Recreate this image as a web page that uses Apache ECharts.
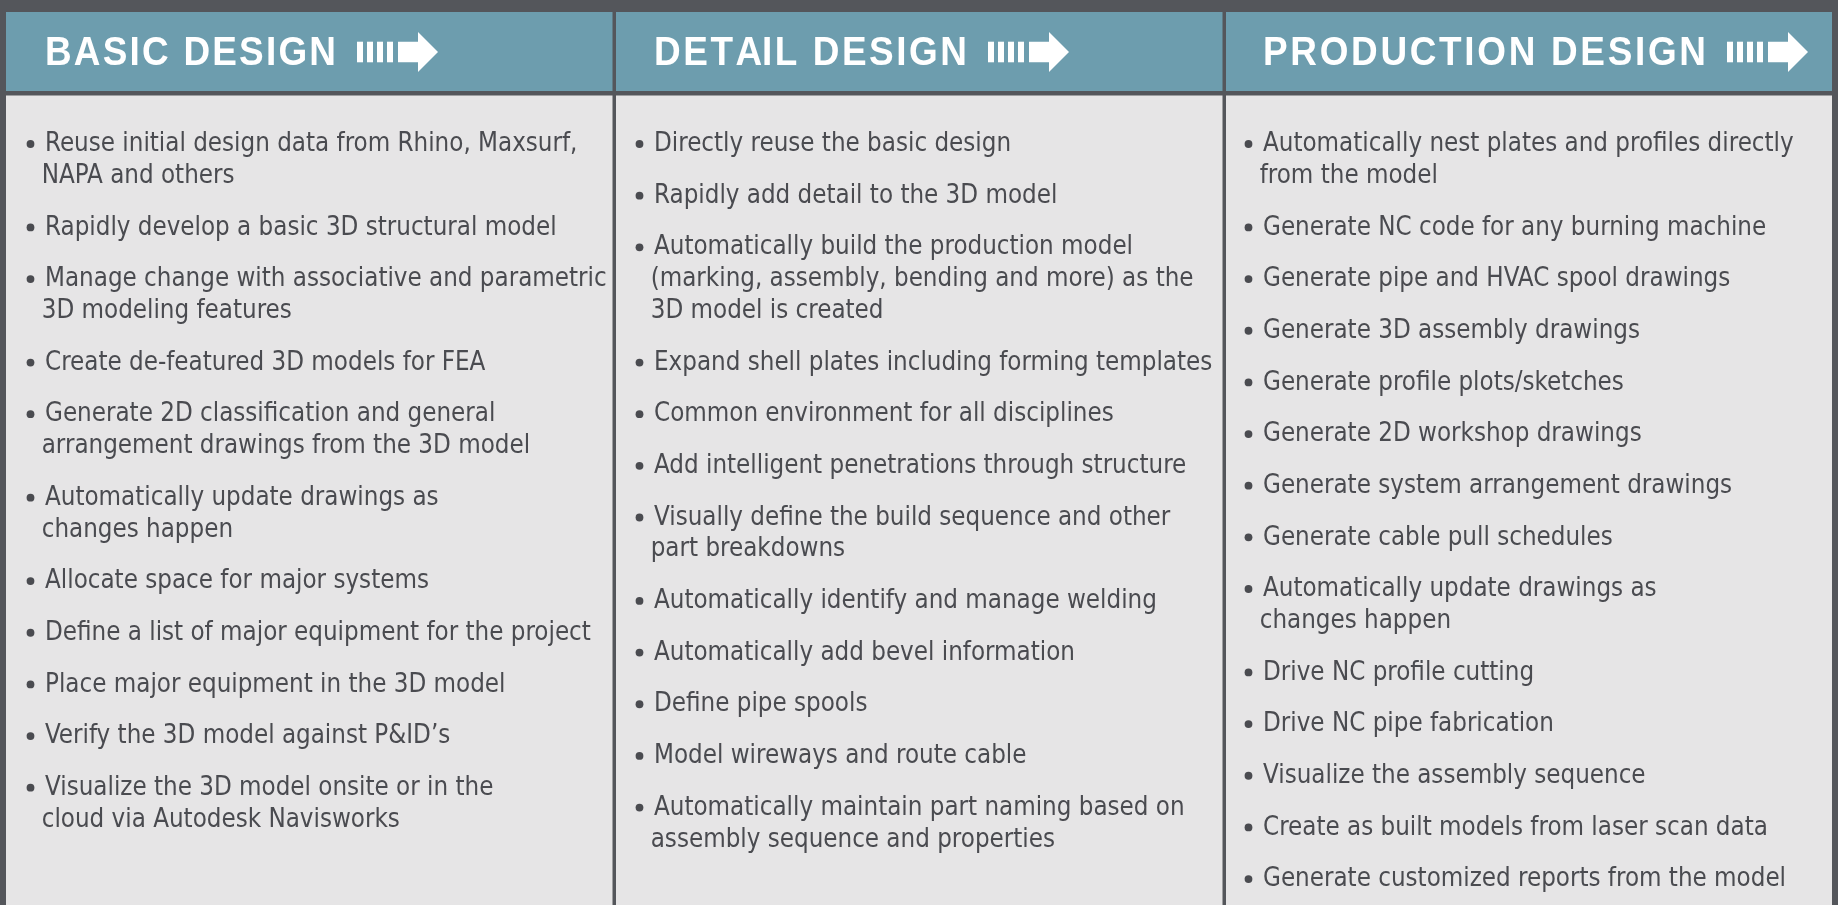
<!DOCTYPE html>
<html><head><meta charset="utf-8">
<script src="https://cdn.jsdelivr.net/npm/echarts/dist/echarts.min.js"></script>
<style>html,body{margin:0;padding:0;background:#54565b;overflow:hidden}#c{width:1838px;height:905px;}</style>
</head><body><div id="c"></div>
<script>
// ---- data ----
const columnTitles = ['BASIC DESIGN', 'DETAIL DESIGN', 'PRODUCTION DESIGN'];
const basicItems = [
  'Reuse initial design data from Rhino, Maxsurf,\nNAPA and others',
  'Rapidly develop a basic 3D structural model',
  'Manage change with associative and parametric\n3D modeling features',
  'Create de-featured 3D models for FEA',
  'Generate 2D classification and general\narrangement drawings from the 3D model',
  'Automatically update drawings as\nchanges happen',
  'Allocate space for major systems',
  'Define a list of major equipment for the project',
  'Place major equipment in the 3D model',
  'Verify the 3D model against P&ID\u2019s',
  'Visualize the 3D model onsite or in the\ncloud via Autodesk Navisworks'
];
const detailItems = [
  'Directly reuse the basic design',
  'Rapidly add detail to the 3D model',
  'Automatically build the production model\n(marking, assembly, bending and more) as the\n3D model is created',
  'Expand shell plates including forming templates',
  'Common environment for all disciplines',
  'Add intelligent penetrations through structure',
  'Visually define the build sequence and other\npart breakdowns',
  'Automatically identify and manage welding',
  'Automatically add bevel information',
  'Define pipe spools',
  'Model wireways and route cable',
  'Automatically maintain part naming based on\nassembly sequence and properties'
];
const productionItems = [
  'Automatically nest plates and profiles directly\nfrom the model',
  'Generate NC code for any burning machine',
  'Generate pipe and HVAC spool drawings',
  'Generate 3D assembly drawings',
  'Generate profile plots/sketches',
  'Generate 2D workshop drawings',
  'Generate system arrangement drawings',
  'Generate cable pull schedules',
  'Automatically update drawings as\nchanges happen',
  'Drive NC profile cutting',
  'Drive NC pipe fabrication',
  'Visualize the assembly sequence',
  'Create as built models from laser scan data',
  'Generate customized reports from the model'
];
const columnItems = [basicItems, detailItems, productionItems];

// ---- layout / style ----
const DARK = '#54565b', HEAD = '#6d9dae', BODY = '#e6e5e6', TXT = '#4a4b50';
const colLeft = [6, 616, 1226], colRight = [612.5, 1222.5, 1832];
const textX = [45, 654, 1263];
const titleWidth = [291, 313, 443];
const headTop = 12, headBottom = 91, bodyTop = 95.5, H = 905;
const firstLineY = 144.5, lineH = 31.8, itemGap = 19.85;

const cv = document.createElement('canvas').getContext('2d');
function tw(t, f) { cv.font = f; return cv.measureText(t).width; }
const bodyFam = '"DejaVu Sans Condensed", "DejaVu Sans", sans-serif';
let bodySize = 25.6 * 523 / tw('Generate customized reports from the model', '25.6px ' + bodyFam);
const bodyFont = bodySize.toFixed(2) + 'px ' + bodyFam;

// header font: bold face, slightly condensed, evenly tracked
const headFont = 'bold 41px "Liberation Sans", Arial, sans-serif';
const SX = 0.9;

const g = [];
for (let c = 0; c < 3; c++) {
  g.push({type: 'rect', silent: true, shape: {x: colLeft[c], y: headTop, width: colRight[c] - colLeft[c], height: headBottom - headTop}, style: {fill: HEAD}});
  g.push({type: 'rect', silent: true, shape: {x: colLeft[c], y: bodyTop, width: colRight[c] - colLeft[c], height: H - bodyTop}, style: {fill: BODY}});
  const title = columnTitles[c];
  const chars = Array.from(title);
  const natural = tw(title, headFont) * SX;
  const track = (titleWidth[c] - natural) / (chars.length - 1);
  chars.forEach((ch, i) => {
    if (ch === ' ') return;
    const px = textX[c] + tw(title.slice(0, i), headFont) * SX + i * track;
    g.push({type: 'text', silent: true, x: px, y: 54, scaleX: SX,
      style: {text: ch, font: headFont, fill: '#ffffff', align: 'left', verticalAlign: 'middle', textAlign: 'left', textVerticalAlign: 'middle'}});
  });
  const x0 = textX[c] + titleWidth[c] + 21;
  for (let b = 0; b < 4; b++) {
    g.push({type: 'rect', silent: true, shape: {x: x0 + b * 10, y: 41.7, width: 6, height: 20.6}, style: {fill: '#ffffff'}});
  }
  g.push({type: 'polygon', silent: true, shape: {points: [
    [x0 + 41, 41.7], [x0 + 61, 41.7], [x0 + 61, 32], [x0 + 81, 52], [x0 + 61, 72], [x0 + 61, 62.3], [x0 + 41, 62.3]
  ]}, style: {fill: '#ffffff'}});
  let y = firstLineY;
  columnItems[c].forEach(item => {
    const lines = item.split('\n');
    g.push({type: 'circle', silent: true, shape: {cx: textX[c] - 14.5, cy: y - 0.5, r: 3.9}, style: {fill: TXT}});
    lines.forEach((ln, i) => {
      g.push({type: 'text', silent: true, x: i === 0 ? textX[c] : textX[c] - 3.3, y: y,
        style: {text: ln, font: bodyFont, fill: TXT, align: 'left', verticalAlign: 'middle', textAlign: 'left', textVerticalAlign: 'middle'}});
      if (i < lines.length - 1) y += lineH;
    });
    y += lineH + itemGap;
  });
}

const chart = echarts.init(document.getElementById('c'), null, {renderer: 'canvas'});
chart.setOption({backgroundColor: DARK, animation: false, graphic: {elements: g}});
</script>
</body></html>
